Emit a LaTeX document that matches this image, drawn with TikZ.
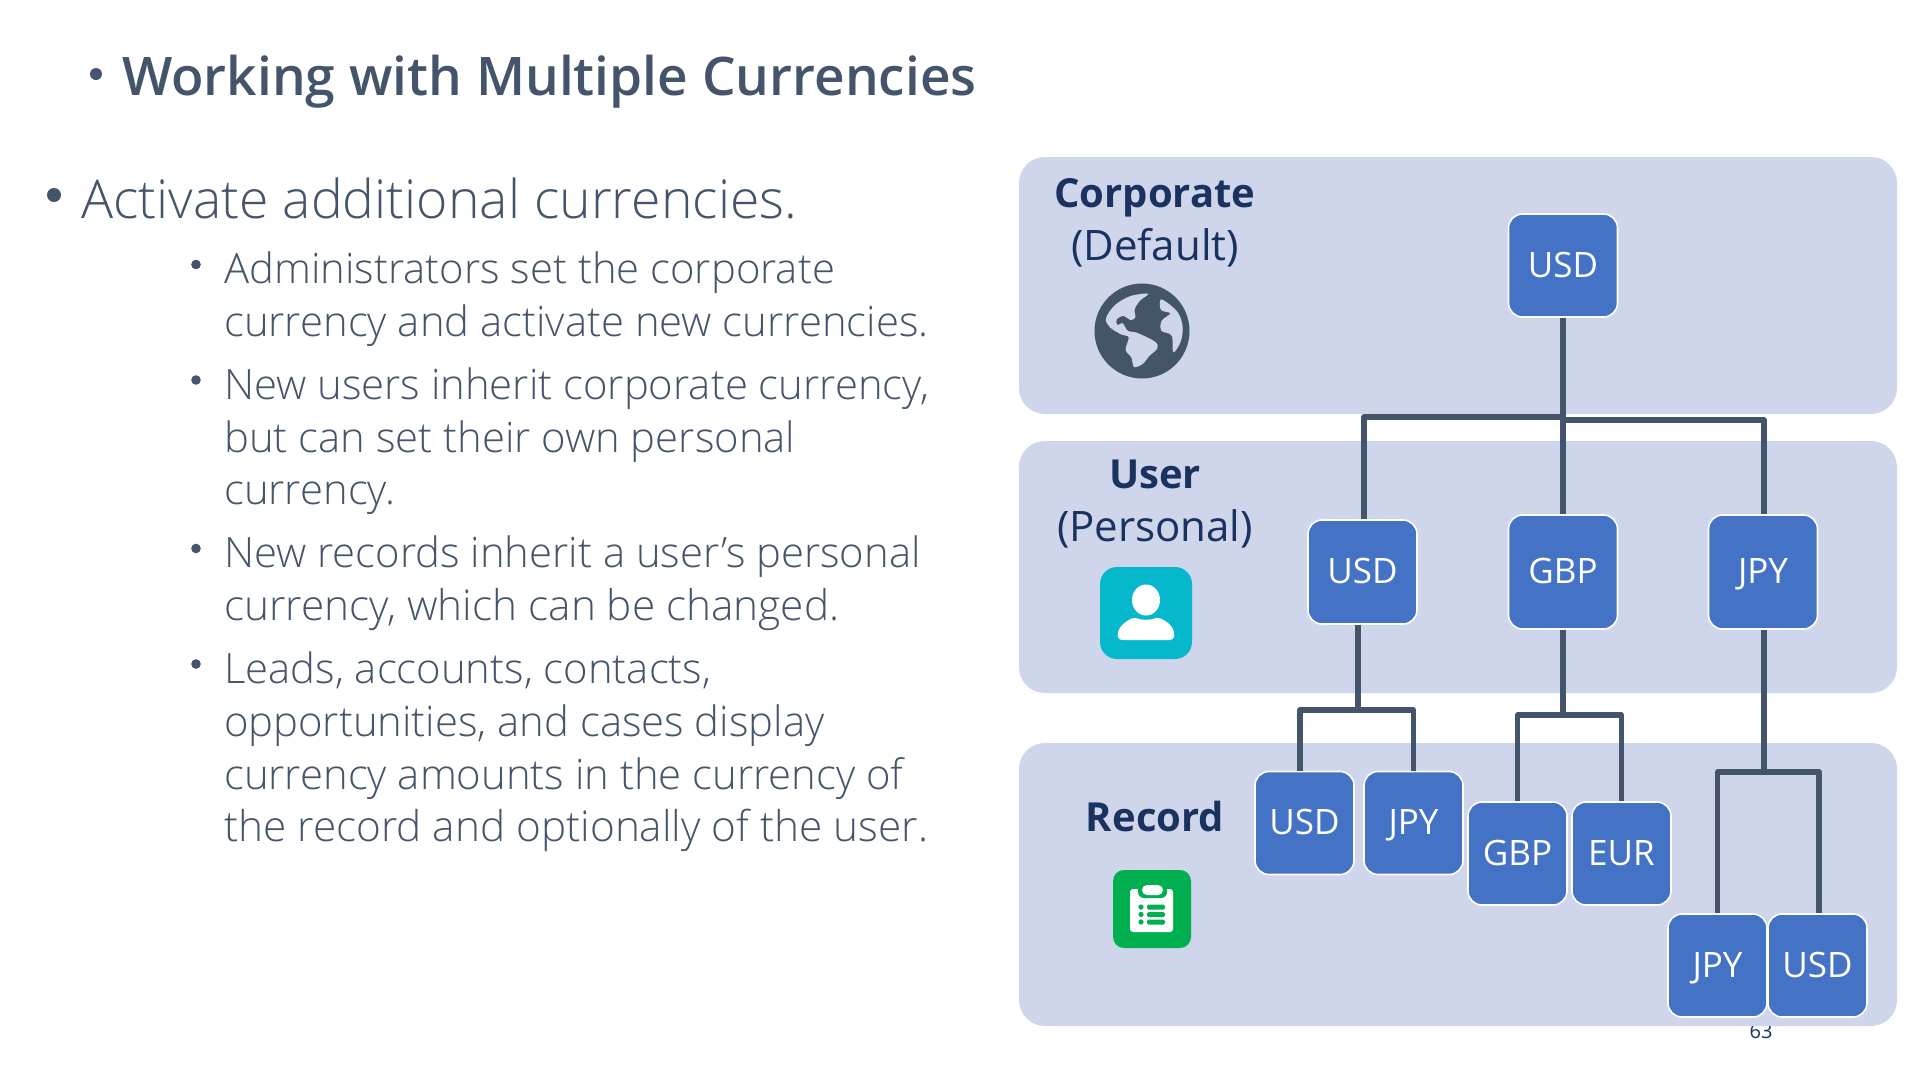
\documentclass[tikz,border=0pt]{standalone}
\usepackage{fontspec}
\setmainfont{Open Sans}
\newfontfamily\lightf{Open Sans Light}
\IfFontExistsTF{Open Sans Semibold}{\newfontfamily\semif{Open Sans Semibold}\newcommand\titlefont{\semif\fontsize{53.2}{53}\selectfont}}{\newcommand\titlefont{\fontsize{51.2}{53}\selectfont\bfseries}}
\usetikzlibrary{calc}
\definecolor{slate}{HTML}{44546A}
\definecolor{panelc}{HTML}{CFD5EA}
\definecolor{boxc}{HTML}{4472C4}
\definecolor{navy}{HTML}{1A3260}
\definecolor{teal2}{HTML}{06B8CC}
\definecolor{green2}{HTML}{00B050}
\tikzset{
  x=1pt,y=-1pt,
  panel/.style={fill=panelc,rounded corners=26pt},
  curbox/.style={draw=white,line width=1.6pt,fill=boxc,rounded corners=14pt,text=white,inner sep=0pt,align=center,text height=23pt,text depth=0pt,font=\fontsize{35}{35}\selectfont},
  bigbox/.style={curbox,minimum width=109pt,minimum height=114pt},
  usrbox/.style={curbox,minimum width=109pt,minimum height=104pt},
  recbox/.style={curbox,minimum width=99pt,minimum height=103pt},
  conn/.style={draw=slate,line width=5.4pt,line join=round},
  titletext/.style={anchor=base west,text=slate,inner sep=0pt,font=\titlefont},
  maintext/.style={anchor=base west,text=slate,inner sep=0pt,font=\lightf\fontsize{53.5}{54}\selectfont},
  subtext/.style={anchor=base west,text=slate,inner sep=0pt,font=\lightf\fontsize{41.8}{42}\selectfont},
  subwide/.style={subtext,font=\lightf\fontsize{42.3}{42}\selectfont},
  lblbold/.style={anchor=base,text=navy,inner sep=0pt,font=\fontsize{40}{40}\selectfont\bfseries},
  lblreg/.style={anchor=base,text=navy,inner sep=0pt,font=\fontsize{42}{42}\selectfont},
}
\begin{document}
\begin{tikzpicture}
\useasboundingbox (0,0) rectangle (1920,1080);
\fill[white] (0,0) rectangle (1920,1080);
% page number sits behind the panel
\node[anchor=base,text=navy,inner sep=0pt,font=\fontsize{20}{20}\selectfont] (pg) at (1761,1038.5) {63};
% panels
\fill[panel] (1019,157) rectangle (1897,414);
\fill[panel] (1019,441) rectangle (1897,693);
\fill[panel] (1019,743) rectangle (1897,1026);
% left text
\fill[slate] (96,74) circle (6);
\node[titletext] (title) at (122,95) {Working with Multiple Currencies};
\fill[slate] (54,195) circle (7);
\node[maintext] (main) at (81,218) {Activate additional currencies.};
\foreach \yy in {264.5,380,548.5,664}{\fill[slate] (196,\yy) circle (4.8);}
\node[subtext] (a1) at (224,283) {Administrators set the corporate};
\node[subtext] (a2) at (224,336) {currency and activate new currencies.};
\node[subtext] (b1) at (224,399) {New users inherit corporate currency,};
\node[subtext] (b2) at (224,452) {but can set their own personal};
\node[subtext] (b3) at (224,504) {currency.};
\node[subtext] (c1) at (224,567) {New records inherit a user’s personal};
\node[subwide] (c2) at (224,620) {currency, which can be changed.};
\node[subtext] (d1) at (224,683) {Leads, accounts, contacts,};
\node[subtext] (d2) at (224,736) {opportunities, and cases display};
\node[subtext] (d3) at (224,789) {currency amounts in the currency of};
\node[subwide] (d4) at (224,841) {the record and optionally of the user.};
% panel labels
\node[lblbold] (lc) at (1155,207) {Corporate};
\node[lblreg] (ld) at (1155,260) {(Default)};
\node[lblbold] (lu) at (1155,488) {User};
\node[lblreg] (lp) at (1155,541) {(Personal)};
\node[lblbold] (lr) at (1155,831) {Record};
% globe
\fill[slate] (1142,331) circle (47.5);
\begin{scope}[shift={(1060,270)},x=0.3333pt,y=-0.3333pt]
\fill[panelc] plot[smooth cycle,tension=0.55] coordinates {(265,71) (240,92) (224,118) (226,142) (212,150) (190,138) (170,148) (172,165) (188,160) (204,183) (230,188) (285,215) (292,235) (268,258) (248,282) (222,291) (214,262) (197,240) (206,202) (185,194) (150,172) (138,145) (165,105) (212,78)};
\fill[panelc] plot[smooth cycle,tension=0.55] coordinates {(304,88) (303,120) (331,130) (305,152) (304,182) (335,197) (340,247) (362,215) (368,170) (352,125)};
\end{scope}
% person icon
\fill[teal2,rounded corners=17pt] (1100,567) rectangle (1192,659);
\fill[white] (1146,600) ellipse [x radius=14,y radius=15.5];
\fill[white,rounded corners=4pt] (1118,640) .. controls (1117,626) and (1128,620) .. (1136,617) .. controls (1141,620) and (1151,620) .. (1156,617) .. controls (1165,620) and (1175,626) .. (1174,640) -- cycle;
% clipboard icon
\fill[green2,rounded corners=11pt] (1113,870) rectangle (1191,948);
\fill[white,rounded corners=3pt] (1130,889) rectangle (1173,932);
\fill[green2,rounded corners=6pt] (1138,880) rectangle (1167,898);
\fill[white,rounded corners=5pt] (1142,885) rectangle (1163,895);
\foreach \yy in {907,914.5,922}{
  \fill[green2] (1141,\yy) circle (2.6);
  \fill[green2,rounded corners=1.5pt] (1147,\yy-2.5) rectangle (1165,\yy+2.5);
}
% boxes
\node[bigbox,minimum height=103pt] (corp) at (1563,265.5) {USD};
\node[usrbox] (uusd) at (1362.5,572) {USD};
\node[bigbox] (ugbp) at (1563,572) {GBP};
\node[bigbox] (ujpy) at (1763,572) {JPY};
\node[recbox] (rusd) at (1304.5,823) {USD};
\node[recbox] (rjpy) at (1413.5,823) {JPY};
\node[recbox] (rgbp) at (1517.5,853.5) {GBP};
\node[recbox] (reur) at (1621.5,853.5) {EUR};
\node[recbox] (rjp2) at (1717.5,965.5) {JPY};
\node[recbox] (rus2) at (1817.5,965.5) {USD};
% junctions
\coordinate (busa) at (1563,417);
\coordinate (busb) at (1563,420);
\coordinate (ja) at (1358,710);
\coordinate (jb) at (1563,715);
\coordinate (jc) at (1764,772);
% connectors
\draw[conn] (corp.south) -- (busb);
\draw[conn] (busa) -| ([xshift=1.5pt]uusd.north);
\draw[conn] (busb) -| ([xshift=1pt]ujpy.north);
\draw[conn] (busb) -- (ugbp.north);
\draw[conn] ([xshift=-4.5pt]uusd.south) -- (ja);
\draw[conn] (ja) -| ([xshift=-4.5pt]rusd.north);
\draw[conn] (ja) -| (rjpy.north);
\draw[conn] (ugbp.south) -- (jb);
\draw[conn] (jb) -| (rgbp.north);
\draw[conn] (jb) -| (reur.north);
\draw[conn] ([xshift=1pt]ujpy.south) -- (jc);
\draw[conn] (jc) -| (rjp2.north);
\draw[conn] (jc) -| ([xshift=1.5pt]rus2.north);
\end{tikzpicture}
\end{document}
